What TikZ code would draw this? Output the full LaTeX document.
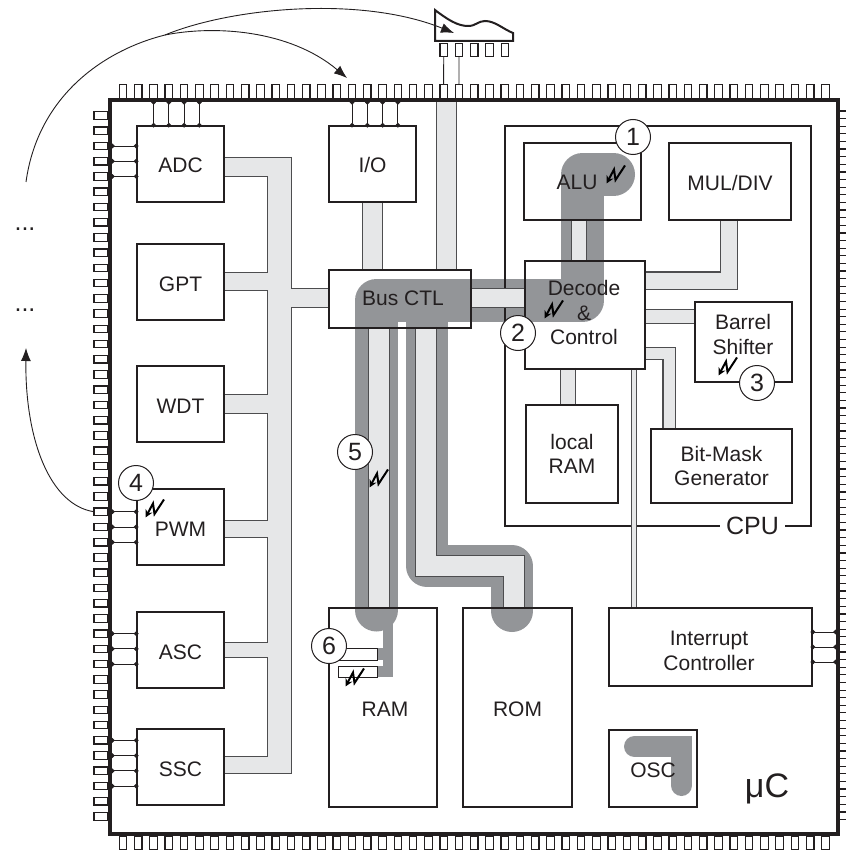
\documentclass[tikz,border=0pt]{standalone}
\usepackage{fontspec}
\setmainfont{Liberation Sans}
\usetikzlibrary{arrows.meta}
\definecolor{ucink}{HTML}{231F20}
\definecolor{busfill}{HTML}{E6E7E8}
\definecolor{busline}{HTML}{4D4D4F}
\definecolor{hotgray}{HTML}{939598}
\pgfdeclarelayer{hot}
\pgfdeclarelayer{bus}
\pgfsetlayers{hot,bus,main}
\tikzset{
    uc block/.style={draw=ucink, line width=1.7pt, inner sep=0pt, outer sep=0pt,
                     anchor=north west, align=center, text=ucink,
                     font=\fontsize{21}{24.5}\selectfont},
    uc one/.style={uc block, text height=18pt, text depth=0pt},
    uc text/.style={text=ucink, inner sep=0pt, align=center,
                    font=\fontsize{21}{24.5}\selectfont},
    uc chip/.style={draw=ucink, line width=3.6pt, inner sep=0pt, outer sep=0pt,
                    anchor=north west},
    uc pinh/.style={draw=ucink, line width=1.2pt, inner sep=0pt, outer sep=0pt,
                    minimum width=14pt, minimum height=7.5pt},
    uc pinv/.style={draw=ucink, line width=1.2pt, inner sep=0pt, outer sep=0pt,
                    minimum width=7.5pt, minimum height=13.5pt},
    uc wire/.style={draw=ucink, line width=0.9pt, shorten >=-1.5pt,
                    {Circle[length=4.6pt]}-{Circle[length=4.6pt]}},
    uc lead/.style={draw=ucink, line width=0.9pt},
    uc arc/.style={draw=ucink, line width=0.9pt, -{Latex[length=13pt,width=10pt]}},
    uc bus/.style={line width=#1+2*\be, shorten <=-\be pt, shorten >=-\be pt, draw=\bc},
    uc hot/.style={draw=hotgray, line width=#1, line cap=round, line join=round},
    uc num/.style={circle, draw=ucink, fill=white, line width=1pt, minimum size=35pt,
                   inner sep=0pt, text=ucink, font=\fontsize{25}{25}\selectfont},
    uc flash/.pic={\draw[draw=black, line width=2pt, -{Stealth[length=7.5pt,width=7.5pt]}]
                   (19,-18.5) -- (9.5,-4) -- (8,-14.5) -- (0.5,-0.5);},
}

\begin{document}
\begin{tikzpicture}[x=1pt, y=-1pt]
    \useasboundingbox (0,0) rectangle (846,850);
    % Package and its pins
    \node[uc chip, minimum width=728pt, minimum height=734pt] (chip) at (110,100) {};
    \foreach \k in {0,...,46} {
        \node[uc pinv] (tp\k) at ({123+15.27*\k}, 91.5) {};
        \node[uc pinv] (bp\k) at ({123+15.27*\k}, 842.8) {};
        \node[uc pinh] (lp\k) at (101, {115.5+15.24*\k}) {};
        \draw[ucink, line width=1.2pt]
            (839.5, {111+15.24*\k}) -- (846, {111+15.24*\k})
            (839.5, {118.5+15.24*\k}) -- (846, {118.5+15.24*\k});
    }
    % Peripherals
    \node[uc one, minimum width=87pt, minimum height=76pt] (adc) at (137,126) {ADC};
    \node[uc one, minimum width=87pt, minimum height=76pt] (gpt) at (137,244) {GPT};
    \node[uc one, minimum width=87pt, minimum height=76pt] (wdt) at (137,366) {WDT};
    \node[uc one, minimum width=87pt, minimum height=76pt] (pwm) at (137,489) {PWM};
    \node[uc one, minimum width=87pt, minimum height=76pt] (asc) at (137,612) {ASC};
    \node[uc one, minimum width=87pt, minimum height=76pt] (ssc) at (137,729) {SSC};
    \node[uc one, minimum width=87pt, minimum height=76pt] (io) at (329,126) {I/O};
    \node[uc block, minimum width=142pt, minimum height=58pt] (busctl) at (329,270) {};
    \node[uc text] (busctltxt) at (403,298) {Bus CTL};
    % CPU blocks
    \node[uc block, minimum width=117pt, minimum height=77pt] (alu) at (524,143) {};
    \node[uc text] (alutxt) at (577,182) {ALU};
    \node[uc one, minimum width=122pt, minimum height=77pt] (muldiv) at (669,143) {MUL/DIV};
    \node[uc block, minimum width=120pt, minimum height=108pt] (decode) at (525,261) {};
    \node[uc text] (decodetxt) at (584,312.5) {Decode\\\&\\Control};
    \node[uc block, minimum width=97pt, minimum height=80pt] (barrel) at (695,302) {};
    \node[uc text] (barreltxt) at (743,334.5) {Barrel\\Shifter};
    \node[uc block, minimum width=141pt, minimum height=74pt] (bitmask) at (651,429) {Bit-Mask\\Generator};
    \node[uc block, minimum width=92pt, minimum height=98pt] (localram) at (526,405) {local\\RAM};
    % Memories and the rest
    \node[uc block, minimum width=108pt, minimum height=199pt] (ram) at (329,608) {};
    \node[uc text] (ramtxt) at (385,709) {RAM};
    \node[uc one, minimum width=109pt, minimum height=199pt] (rom) at (463,608) {ROM};
    \node[uc block, minimum width=203pt, minimum height=78pt] (irq) at (609,608) {};
    \node[uc text] (irqtxt) at (709,651) {Interrupt\\Controller};
    \node[uc one, minimum width=88pt, minimum height=77pt] (osc) at (609,730) {OSC};
    \node[draw=ucink, line width=1pt, inner sep=0pt, outer sep=0pt, anchor=north west,
          minimum width=39pt, minimum height=11.5pt] (cella) at (338,648.5) {};
    \node[draw=ucink, line width=1pt, inner sep=0pt, outer sep=0pt, anchor=north west,
          minimum width=39pt, minimum height=11.5pt] (cellb) at (338,666) {};
    % Pin wires
    \foreach \k in {2,3,4} \draw[uc wire] (lp\k.east -| chip.west) -- (lp\k.east -| adc.west);
    \foreach \k in {26,27,28} \draw[uc wire] (lp\k.east -| chip.west) -- (lp\k.east -| pwm.west);
    \foreach \k in {34,35,36} \draw[uc wire] (lp\k.east -| chip.west) -- (lp\k.east -| asc.west);
    \foreach \k in {41,42,43,44} \draw[uc wire] (lp\k.east -| chip.west) -- (lp\k.east -| ssc.west);
    \foreach \k in {2,3,4,5} \draw[uc wire] (tp\k.south |- chip.north) -- (tp\k.south |- adc.north);
    \foreach \k in {15,16,17,18} \draw[uc wire] (tp\k.south |- chip.north) -- (tp\k.south |- io.north);
    \foreach \y in {632,647,662} \draw[uc wire] (chip.east |- 0,\y) -- (irq.east |- 0,\y);
    % Serial flash on top
    \draw[ucink, line width=2pt, line join=miter] (435,10)
        .. controls (448,20) and (458,26) .. (468,26)
        .. controls (476,26) and (478,21) .. (485,21)
        .. controls (495,21) and (503,29) .. (513,33)
        -- (513,41) -- (435,41) -- cycle;
    \foreach \k in {0,...,4} \node[uc pinv] (mp\k) at ({443.7+15.3*\k}, 50) {};
    \draw[uc lead] (mp0.south) -- (tp21.north);
    \draw[uc lead] (mp1.south) -- (tp22.north);
    % Arcs from the outside
    \coordinate (pwmout) at (26,182);
    \coordinate (branch) at (165,35);
    \coordinate (flashin) at (454,33);
    \coordinate (ioin) at (347,78);
    \coordinate (backin) at (26,348);
    \draw[uc arc] (pwmout) .. controls (38,95) and (105,50) .. (branch)
        .. controls (230,8) and (360,-5) .. (flashin);
    \draw[uc arc] (branch) .. controls (215,25) and (290,30) .. (ioin);
    \draw[uc arc] (lp26.west) .. controls (50,505) and (25,440) .. (backin);
    \node[text=ucink, font=\fontsize{25}{25}\selectfont] (dotsa) at (25,229) {...};
    \node[text=ucink, font=\fontsize{25}{25}\selectfont] (dotsb) at (25,310) {...};
    % Propagation path under everything
    \begin{pgfonlayer}{hot}
        \draw[uc hot=43pt] (376.5,610) -- (376.5,300.5) -- (582.5,300.5)
            -- (582.5,174.5) -- (613.5,174.5);
        \draw[uc hot=42pt] (427,300) -- (427,566) -- (512,566) -- (512,611);
        \draw[hotgray, line width=10pt] (388,620) -- (388,677);
        \draw[hotgray, line width=11.5pt] (377,654.2) -- (390,654.2);
        \draw[hotgray, line width=11.5pt] (377,671.7) -- (390,671.7);
        \draw[uc hot=21pt, line join=miter] (634.5,746.5) -- (681.5,746.5) -- (681.5,785.5);
        \node[draw=ucink, line width=1.7pt, inner sep=0pt, outer sep=0pt, anchor=north west,
              minimum width=306pt, minimum height=400pt] (cpu) at (505,126) {};
    \end{pgfonlayer}
    % Buses, edge pass and then fill pass
    \begin{pgfonlayer}{bus}
        \foreach \be/\bc in {1.1/busline,0/busfill} {
            \draw[uc bus=23] (279.5,158) -- (279.5,773);
            \draw[uc bus=18] (adc.east |- 0,167) -- (279.5,167);
            \draw[uc bus=17] (gpt.east |- 0,281.5) -- (279.5,281.5);
            \draw[uc bus=18] (wdt.east |- 0,404) -- (279.5,404);
            \draw[uc bus=16] (pwm.east |- 0,529) -- (279.5,529);
            \draw[uc bus=14] (asc.east |- 0,650) -- (279.5,650);
            \draw[uc bus=16] (ssc.east |- 0,765) -- (279.5,765);
            \draw[uc bus=18] (279.5,298) -- (busctl.west |- 0,298);
            \draw[uc bus=18.5] (io.south) -- (busctl.north -| io.south);
            \draw[uc bus=19] (446.5,0 |- chip.north) -- (446.5,0 |- busctl.north);
            \draw[uc bus=18] (busctl.east |- 0,298) -- (decode.west |- 0,298);
            \draw[uc bus=20] (379,0 |- busctl.south) -- (379,0 |- ram.north);
            \draw[uc bus=20] (426,0 |- busctl.south) -- (426,566) -- (514,566) -- (514,0 |- rom.north);
            \draw[uc bus=14] (579,0 |- alu.south) -- (579,0 |- decode.north);
            \draw[uc bus=16] (729,0 |- muldiv.south) -- (729,280.5) -- (decode.east |- 0,280.5);
            \draw[uc bus=13] (decode.east |- 0,316.5) -- (barrel.west |- 0,316.5);
            \draw[uc bus=11] (decode.east |- 0,353.5) -- (669,353.5) -- (669,0 |- bitmask.north);
            \draw[uc bus=14] (568,0 |- decode.south) -- (568,0 |- localram.north);
            \draw[uc bus=3.8] (634,0 |- decode.south) -- (634,0 |- irq.north);
        }
    \end{pgfonlayer}
    % Labels
    \node[fill=white, inner sep=6pt, text=ucink, font=\fontsize{25}{25}\selectfont] (cpulbl) at (752.5,526) {CPU};
    \node[text=ucink, font=\fontsize{34}{34}\selectfont] (uclbl) at (767,789) {μC};
    % Fault markers
    \pic at (606,184) {uc flash};
    \pic at (544,319) {uc flash};
    \pic at (718,376) {uc flash};
    \pic at (145,518) {uc flash};
    \pic at (369,488) {uc flash};
    \pic at (345,687) {uc flash};
    \node[uc num] (n1) at (633,137) {1};
    \node[uc num] (n2) at (518,333) {2};
    \node[uc num] (n3) at (757,383) {3};
    \node[uc num] (n4) at (136,483) {4};
    \node[uc num] (n5) at (355,452) {5};
    \node[uc num] (n6) at (329,646) {6};
\end{tikzpicture}
\end{document}
